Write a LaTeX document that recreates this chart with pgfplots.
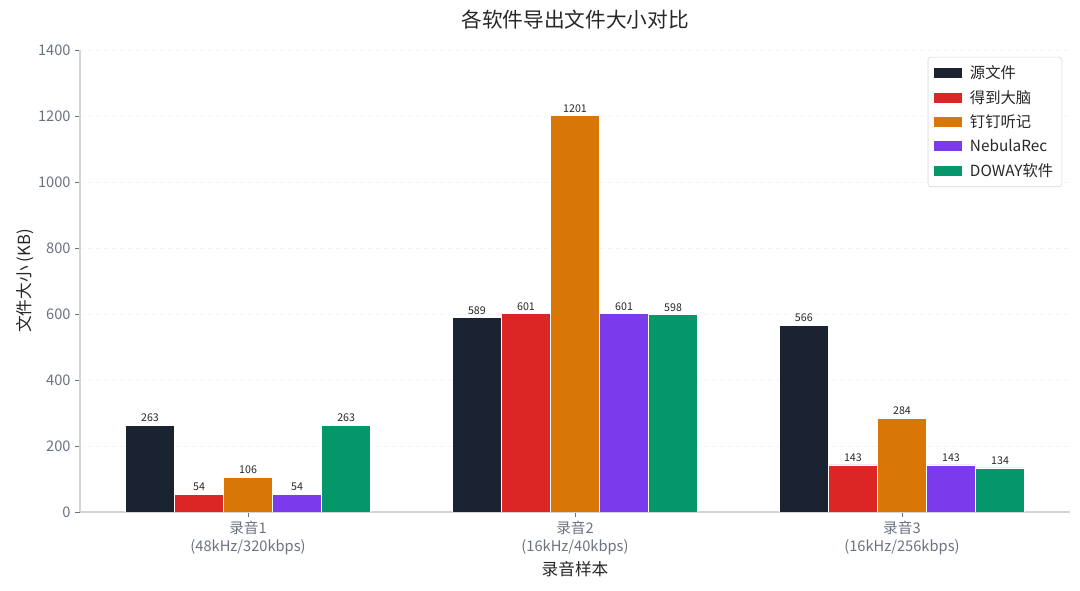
\documentclass[border=0pt]{standalone}
\usepackage{pgfplots}
\pgfplotsset{compat=1.18}
\usepackage{fontspec}
\setmainfont{Noto Sans CJK SC}
\definecolor{cA}{HTML}{1B2333}
\definecolor{cB}{HTML}{DC2626}
\definecolor{cC}{HTML}{D97706}
\definecolor{cD}{HTML}{7C3AED}
\definecolor{cE}{HTML}{059669}
\definecolor{tickc}{HTML}{6B7280}
\definecolor{spine}{HTML}{D4D4D8}
\definecolor{txt}{HTML}{27272A}
\begin{document}
\begin{tikzpicture}
\useasboundingbox (-60pt,-59.25pt) rectangle (750pt,384pt);
\begin{axis}[
  scale only axis,
  width=742.5pt, height=346.5pt,
  xmin=-0.514, xmax=2.514,
  ymin=0, ymax=1400,
  ytick={0,200,400,600,800,1000,1200,1400},
  xtick={0,1,2},
  xticklabels={{录音1\\(48kHz/320kbps)},{录音2\\(16kHz/40kbps)},{录音3\\(16kHz/256kbps)}},
  xticklabel style={align=center, font=\fontsize{11}{13}\selectfont, text=tickc},
  yticklabel style={font=\fontsize{11}{12}\selectfont, text=tickc},
  /pgf/number format/assume math mode=true,
  /pgf/number format/1000 sep={},
  axis x line*=bottom, axis y line*=left,
  axis line style={spine, line width=0.8pt, -},
  tick style={color=tickc, line width=0.6pt},
  major tick length=3.5pt,
  tick align=outside,
  ymajorgrids,
  grid style={dashed, gray!8, line width=0.6pt},
  ybar, bar width=0.15,
  xlabel={录音样本},
  ylabel={文件大小 (KB)},
  label style={font=\fontsize{12.5}{14}\selectfont, text=txt},
  xlabel style={yshift=2pt},
  ylabel style={yshift=-4pt},
  title={各软件导出文件大小对比},
  title style={font=\fontsize{15.5}{18}\selectfont, text=txt, yshift=6pt},
  nodes near coords,
  every node near coord/.append style={font=\fontsize{8}{9}\selectfont, text=txt, yshift=-1pt},
  legend style={at={(rel axis cs:0.992,0.985)}, anchor=north east, draw=spine, rounded corners=2pt,
    font=\fontsize{11.5}{13}\selectfont, text=txt, row sep=3.2pt, inner sep=4.5pt, /tikz/column sep=4pt},
  legend cell align=left,
  legend image code/.code={\fill[#1, draw=none, sharp corners] (0pt,-3.75pt) rectangle (21pt,3.75pt);},
]
\addplot[fill=cA, draw=white, line width=0.4pt, bar shift=-0.3] coordinates {(0,263) (1,589) (2,566)};
\addplot[fill=cB, draw=white, line width=0.4pt, bar shift=-0.15] coordinates {(0,54) (1,601) (2,143)};
\addplot[fill=cC, draw=white, line width=0.4pt, bar shift=0] coordinates {(0,106) (1,1201) (2,284)};
\addplot[fill=cD, draw=white, line width=0.4pt, bar shift=0.15] coordinates {(0,54) (1,601) (2,143)};
\addplot[fill=cE, draw=white, line width=0.4pt, bar shift=0.3] coordinates {(0,263) (1,598) (2,134)};
\legend{源文件,得到大脑,钉钉听记,NebulaRec,DOWAY软件}
\end{axis}
\end{tikzpicture}
\end{document}
